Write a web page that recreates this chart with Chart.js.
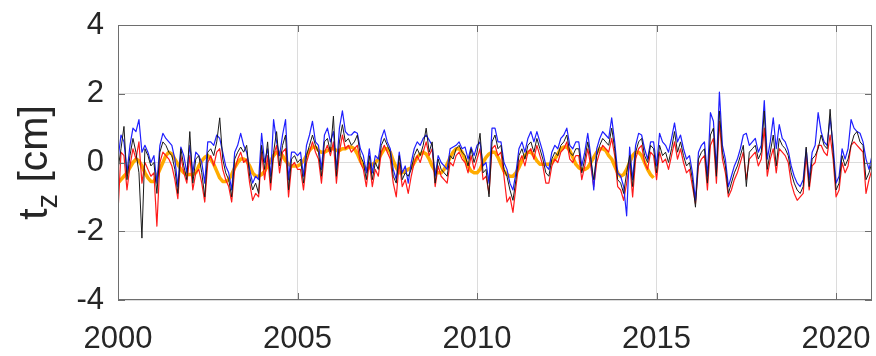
<!DOCTYPE html>
<html>
<head>
<meta charset="utf-8">
<script src="https://cdn.jsdelivr.net/npm/chart.js@4.4.1/dist/chart.umd.min.js"></script>
<style>
  html, body { margin: 0; padding: 0; background: #fff; }
  canvas { display: block; }
</style>
</head>
<body>
<canvas id="tzChart" width="876" height="356"></canvas>
<script>
// monthly samples starting Jan 2000
const startYear = 2000;
const xTicks = [2000, 2005, 2010, 2015, 2020];
const yTicks = [-4, -2, 0, 2, 4];

const blackSeries = [
  -0.2, 0.4, 1.05, -0.5, 0.2, 0.7, 0.3, -0.3, -2.2, 0.4, 0.2, -0.1,
  0.0, -0.9, 0.3, 0.6, 0.5, 0.3, 0.2, -0.2, -0.9, 0.4, -0.1, -0.5,
  0.9, -0.6, 0.1, 0.2, -0.3, -1.0, 0.3, 0.4, 0.2, 0.6, 1.3, 0.1,
  -0.3, -0.5, -1.0, 0.1, 0.3, 0.45, 0.3, 0.5, -0.4, -0.8, -0.6, -0.9,
  0.5, -0.2, 0.6, -0.6, 0.3, 0.9, -0.1, 0.5, 0.8, -0.8, 0.1, 0.2,
  0.0, 0.1, -0.6, 0.2, 0.5, 0.8, 0.5, 0.3, -0.4, 0.6, 0.7, 0.3,
  1.35, -0.4, 0.6, 1.1, 0.6, 0.7, 0.5, 0.6, 0.8, 0.2, 0.0, -0.5,
  0.2, -0.5, 0.0, -0.2, 0.5, 0.7, 0.5, 0.3, -0.4, -0.6, 0.2, -0.5,
  -0.3, -0.4, -0.2, 0.2, 0.4, 0.2, 0.5, 1.0, 0.3, 0.6, -0.6, 0.1,
  -0.2, -0.3, -0.4, 0.2, 0.1, 0.4, 0.5, 0.3, 0.2, -0.1, 0.4, 0.0,
  0.3, 0.85, -0.3, -0.2, -1.0, 0.6, 0.8, 0.4, 0.5, -0.2, -0.4, -0.8,
  -1.1, -0.5, 0.2, 0.4, 0.1, 0.5, 0.6, 0.3, 0.7, 0.4, 0.1, -0.3,
  -0.4, 0.1, 0.3, 0.2, 0.5, 0.6, 0.8, 0.3, 0.2, 0.4, 0.4, -0.3,
  0.1, 0.6, 0.1, -0.5, 0.2, 0.5, 0.7, 0.6, 0.5, 1.0, 0.4, -0.5,
  -0.6, -0.9, -0.3, 0.2, -0.7, 0.3, 0.6, 0.7, 0.2, 0.0, 0.5, 0.4,
  -0.3, 0.5, 0.2, 0.3, 0.0, 0.4, 0.9, 0.3, 0.6, 0.2, -0.1, 0.0,
  -0.5, -1.3, 0.1, 0.3, 0.4, -0.6, 0.8, 1.0, -0.4, 1.5, 0.3, -0.1,
  -0.9, -0.6, -0.3, -0.1, 0.2, 0.5, -0.7, 0.3, 0.4, 0.5, 0.1, 0.3,
  1.5, -0.2, 0.3, 0.8, -0.1, 0.7, 0.5, 0.4, 0.2, -0.3, -0.6, -0.8,
  -0.9, -0.7, 0.45, -0.7, 0.1, 0.2, 0.4, 0.8, 0.5, 0.4, 1.55, 0.3,
  -0.8, -0.6, 0.2, -0.1, 0.1, 0.5, 0.8, 0.9, 0.6, 0.5, -0.5, -0.3,
  0.0
];

const blueSeries = [
  0.1, 0.8, 0.6, -0.3, 0.5, 1.0, 0.9, 1.25, 0.3, 0.5, 0.3, 0.0,
  0.2, -0.6, 0.5, 0.85, 0.7, 0.6, 0.5, 0.1, -0.7, 0.45, 0.2, -0.3,
  0.5, -0.3, 0.3, 0.2, 0.0, -0.6, 0.6, 0.6, 0.5, 0.8, 0.7, 0.3,
  -0.1, -0.3, -0.8, 0.3, 0.5, 0.85, 0.5, 0.3, -0.2, -0.6, -0.4, -0.5,
  0.85, 0.0, 0.4, -0.4, 1.25, 0.6, 0.2, 0.8, 1.25, -0.5, 0.3, 0.3,
  0.2, 0.3, -0.4, 0.5, 0.8, 1.2, 0.6, 0.5, -0.2, 0.8, 1.0, 0.6,
  0.9, -0.2, 1.0, 1.5, 0.9, 0.8, 0.8, 0.9, 0.85, 0.4, 0.2, -0.3,
  0.4, -0.3, 0.2, 0.1, 0.7, 0.95, 0.6, 0.4, -0.2, -0.5, 0.3, -0.3,
  -0.1, -0.6, 0.0, 0.4, 0.6, 0.5, 0.7, 0.8, 0.65, 0.5, -0.4, 0.2,
  0.0, -0.1, -0.2, 0.4, 0.45, 0.5, 0.6, 0.4, 0.45, 0.1, 0.45, 0.2,
  0.5, 0.6, -0.1, 0.0, -0.6, 1.0, 1.0, 0.6, 0.6, 0.0, -0.2, -0.6,
  -0.8, -0.3, 0.4, 0.6, 0.3, 0.7, 0.9, 0.6, 0.9, 0.6, 0.3, -0.1,
  -0.2, 0.3, 0.5, 0.4, 0.7, 0.8, 1.0, 0.5, 0.4, 0.6, 0.6, -0.1,
  0.3, 0.85, 0.2, -0.8, 0.4, 0.7, 0.9, 0.8, 0.7, 1.3, 0.6, -0.3,
  -0.4, -0.7, -1.55, 0.45, -0.5, 0.5, 0.85, 0.8, 0.4, 0.1, 0.6, 0.6,
  -0.1, 0.85, 0.6, 0.5, 0.3, 0.7, 1.15, 0.6, 0.8, 0.4, 0.1, 0.2,
  -0.3, -1.1, 0.3, 0.5, 0.6, -0.4, 1.45, 1.2, -0.2, 2.05, 0.5, 0.1,
  -0.7, -0.4, -0.1, 0.1, 0.4, 0.8, 0.85, 0.5, 0.6, 0.7, 0.3, 0.5,
  1.8, 0.1, 0.6, 1.3, 0.4, 1.1, 0.7, 0.6, 0.35, -0.1, -0.4, -0.6,
  -0.7, -0.5, 0.4, -0.5, 0.3, 0.5, 1.45, 0.9, 0.6, 0.5, 1.3, 0.5,
  -0.6, -0.4, 0.4, 0.1, 0.4, 1.25, 1.0, 0.9, 0.85, 0.6, 0.1, -0.2,
  0.2
];

const redSeries = [
  -1.45, 0.3, 0.2, -0.8, -0.1, 0.4, 0.1, 0.6, -0.6, 0.0, -0.2, -0.4,
  -0.3, -1.85, 0.0, 0.3, 0.2, 0.1, -0.1, -0.5, -1.05, 0.2, -0.3, -0.6,
  0.2, -0.8, -0.3, -0.2, -0.6, -1.15, 0.0, 0.2, -0.1, 0.3, 0.4, -0.2,
  -0.5, -0.7, -1.15, -0.2, 0.1, 0.3, 0.0, 0.1, -0.6, -1.1, -0.9, -1.0,
  0.3, -0.5, 0.2, -0.8, 0.2, 0.5, -0.3, 0.3, 0.4, -1.0, -0.1, 0.0,
  -0.2, -0.2, -0.8, 0.0, 0.3, 0.6, 0.3, 0.1, -0.6, 0.3, 0.5, 0.2,
  0.6, -0.6, 0.3, 0.8, 0.4, 0.5, 0.3, 0.4, 0.5, 0.0, -0.2, -0.7,
  0.0, -0.7, -0.2, -0.4, 0.3, 0.5, 0.3, 0.1, -0.6, -1.0, 0.0, -0.7,
  -0.5, -0.9, -0.4, 0.0, 0.2, 0.0, 0.3, 0.6, 0.2, 0.4, -0.7, -0.1,
  -0.4, -0.5, -0.6, 0.0, -0.1, 0.2, 0.3, 0.1, 0.0, -0.3, 0.2, -0.2,
  0.1, 0.4, -0.5, -0.4, -0.9, 0.4, 0.5, 0.2, 0.3, -0.4, -1.15, -1.0,
  -1.45, -0.7, 0.0, 0.2, -0.1, 0.3, 0.4, 0.1, 0.5, 0.2, -0.1, -0.6,
  -0.6, -0.1, 0.1, 0.0, 0.3, 0.4, 0.6, 0.1, 0.0, 0.2, 0.2, -0.5,
  -0.1, 0.4, -0.1, -0.7, 0.0, 0.3, 0.5, 0.4, 0.3, 0.7, 0.2, -0.7,
  -0.8, -1.1, -0.6, 0.0, -1.0, 0.1, 0.4, 0.5, 0.0, -0.2, 0.3, 0.2,
  -0.5, 0.3, 0.0, 0.1, -0.2, 0.2, 0.6, 0.1, 0.4, 0.0, -0.3, -0.2,
  -0.7, -1.2, -0.1, 0.1, 0.2, -0.8, 0.5, 0.7, -0.6, 1.2, 0.1, -0.3,
  -1.0, -0.8, -0.5, -0.3, 0.0, 0.3, -0.5, 0.1, 0.2, 0.3, -0.1, 0.1,
  1.0, -0.4, 0.1, 0.4, -0.3, 0.4, 0.3, 0.2, 0.0, -0.6, -0.9, -1.1,
  -1.0, -0.9, 0.2, -0.8, -0.1, 0.0, 0.5, 0.5, 0.3, 0.2, 0.8, 0.1,
  -1.0, -0.8, 0.0, -0.3, -0.1, 0.5, 0.6, 0.5, 0.4, 0.3, -0.9, -0.5,
  -0.2
];

// smooth seasonal fit, only up to end of 2014
const orangeSeries = [
  -0.6, -0.5, -0.4, -0.3, -0.15, 0.0, 0.1, 0.05, -0.1, -0.3, -0.45, -0.55,
  -0.55, -0.4, -0.2, 0.0, 0.2, 0.3, 0.25, 0.1, -0.05, -0.2, -0.3, -0.35,
  -0.35, -0.35, -0.3, -0.1, 0.05, 0.15, 0.2, 0.1, -0.05, -0.25, -0.45, -0.55,
  -0.55, -0.5, -0.35, -0.15, 0.0, 0.1, 0.1, 0.05, -0.1, -0.3, -0.4, -0.4,
  -0.35, -0.25, -0.1, 0.05, 0.2, 0.3, 0.3, 0.2, 0.05, -0.05, -0.1, -0.1,
  -0.1, -0.05, 0.05, 0.2, 0.35, 0.45, 0.45, 0.35, 0.3, 0.3, 0.35, 0.4,
  0.4, 0.35, 0.35, 0.4, 0.4, 0.45, 0.45, 0.4, 0.25, 0.05, -0.1, -0.2,
  -0.15, -0.05, 0.0, 0.1, 0.25, 0.4, 0.4, 0.3, 0.05, -0.15, -0.3, -0.3,
  -0.25, -0.2, -0.15, 0.0, 0.15, 0.25, 0.3, 0.25, 0.1, -0.1, -0.25, -0.3,
  -0.3, -0.2, -0.05, 0.15, 0.3, 0.4, 0.4, 0.3, 0.1, -0.1, -0.25, -0.3,
  -0.3, -0.2, 0.0, 0.15, 0.25, 0.3, 0.3, 0.15, -0.05, -0.25, -0.35, -0.4,
  -0.4, -0.3, -0.15, 0.05, 0.2, 0.3, 0.3, 0.2, 0.05, -0.05, -0.05, -0.05,
  -0.05, 0.0, 0.1, 0.25, 0.4, 0.45, 0.45, 0.35, 0.15, -0.05, -0.15, -0.2,
  -0.2, -0.15, 0.0, 0.15, 0.3, 0.4, 0.4, 0.35, 0.2, 0.1, -0.1, -0.3,
  -0.4, -0.35, -0.2, 0.0, 0.2, 0.3, 0.3, 0.2, 0.0, -0.2, -0.35, -0.45
];

const toPoints = (values) => values.map((v, i) => ({x: startYear + i / 12, y: v}));

const tickFont = {family: "'Liberation Sans', Arial, sans-serif", size: 31};
const textColor = '#262626';

const boxPlugin = {
    id: 'boxPlugin',
    afterDraw(chart) {
        const {ctx, chartArea, scales} = chart;
        const {left, right, top, bottom} = chartArea;
        ctx.save();
        ctx.strokeStyle = '#6e6e6e';
        ctx.lineWidth = 1;
        ctx.strokeRect(left + 0.5, top + 0.5, right - left - 1, bottom - top - 1);
        // inner tick marks, matlab style
        xTicks.forEach(t => {
            const px = Math.round(scales.x.getPixelForValue(t)) + 0.5;
            ctx.beginPath();
            ctx.moveTo(px, bottom);
            ctx.lineTo(px, bottom - 7);
            ctx.moveTo(px, top);
            ctx.lineTo(px, top + 7);
            ctx.stroke();
        });
        yTicks.forEach(t => {
            const py = Math.round(scales.y.getPixelForValue(t)) + 0.5;
            ctx.beginPath();
            ctx.moveTo(left, py);
            ctx.lineTo(left + 7, py);
            ctx.moveTo(right, py);
            ctx.lineTo(right - 7, py);
            ctx.stroke();
        });

        // y axis title: t_z [cm]
        const yMid = (top + bottom) / 2;
        ctx.translate(47, yMid);
        ctx.rotate(-Math.PI / 2);
        ctx.fillStyle = textColor;
        ctx.textBaseline = 'alphabetic';
        ctx.textAlign = 'left';
        const mainFont = "41px 'Liberation Sans', Arial, sans-serif";
        const subFont = "29px 'Liberation Sans', Arial, sans-serif";
        ctx.font = mainFont;
        const wT = ctx.measureText('t').width;
        const wRest = ctx.measureText(' [cm]').width;
        ctx.font = subFont;
        const wZ = ctx.measureText('z').width;
        let xs = -(wT + wZ + wRest) / 2;
        ctx.font = mainFont;
        ctx.fillText('t', xs, 0);
        xs += wT;
        ctx.font = subFont;
        ctx.fillText('z', xs, 10);
        xs += wZ;
        ctx.font = mainFont;
        ctx.fillText(' [cm]', xs, 0);
        ctx.restore();
    }
};

const ctx = document.getElementById('tzChart').getContext('2d');
new Chart(ctx, {
    type: 'line',
    data: {
        datasets: [
            {label: 'black', data: toPoints(blackSeries), borderColor: '#1a1a1a', borderWidth: 1.0},
            {label: 'blue', data: toPoints(blueSeries), borderColor: '#1f1fff', borderWidth: 1.2},
            {label: 'red', data: toPoints(redSeries), borderColor: '#ff1a1a', borderWidth: 1.2},
            {label: 'orange', data: toPoints(orangeSeries), borderColor: '#ffab00', borderWidth: 3.5}
        ]
    },
    options: {
        responsive: false,
        animation: false,
        devicePixelRatio: 1,
        elements: {
            point: {radius: 0},
            line: {tension: 0, borderJoinStyle: 'round'}
        },
        layout: {padding: {top: 25, right: 4, left: 0, bottom: 0}},
        plugins: {
            legend: {display: false},
            tooltip: {enabled: false}
        },
        scales: {
            x: {
                type: 'linear',
                min: 2000,
                max: 2021,
                afterBuildTicks: (axis) => {
                    axis.ticks = xTicks.map(v => ({value: v}));
                },
                afterFit: (axis) => {
                    axis.height = 56;
                    axis.paddingLeft = 0;
                    axis.paddingRight = 0;
                },
                grid: {color: '#dcdcdc', drawTicks: false},
                border: {display: false},
                ticks: {
                    font: tickFont,
                    color: textColor,
                    padding: 21,
                    maxRotation: 0,
                    callback: (v) => String(v)
                }
            },
            y: {
                min: -4,
                max: 4,
                afterBuildTicks: (axis) => {
                    axis.ticks = yTicks.map(v => ({value: v}));
                },
                afterFit: (axis) => {
                    axis.width = 118;
                    axis.paddingTop = 0;
                    axis.paddingBottom = 0;
                },
                grid: {color: '#dcdcdc', drawTicks: false},
                border: {display: false},
                ticks: {
                    font: tickFont,
                    color: textColor,
                    padding: 14,
                    callback: (v) => String(v)
                }
            }
        }
    },
    plugins: [boxPlugin]
});
</script>
</body>
</html>
